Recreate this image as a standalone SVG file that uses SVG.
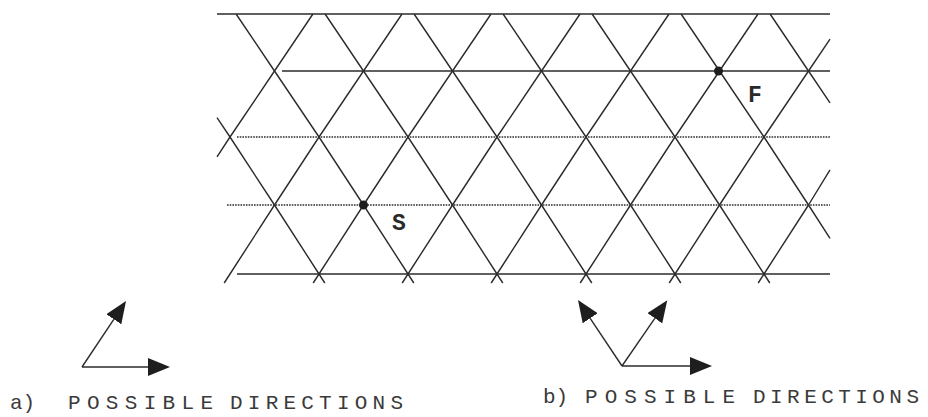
<svg xmlns="http://www.w3.org/2000/svg" width="928" height="417" viewBox="0 0 928 417">
  <style>
    .h { stroke: #2b2b2b; stroke-width: 1.4; fill: none; }
    .hd { stroke: #2b2b2b; stroke-width: 1.3; fill: none; stroke-dasharray: 1.6 1.1; }
    .d { stroke: #2b2b2b; stroke-width: 1.4; fill: none; stroke-linejoin: round; }
    .arr { stroke: #2b2b2b; stroke-width: 1.4; fill: none; marker-end: url(#head); }
    .pt { fill: #1e1e1e; }
    .lbl { font-family: "Liberation Mono", "DejaVu Sans Mono", monospace; font-weight: bold; font-size: 23px; fill: #2a2a2a; }
    .cap { font-family: "Liberation Mono", "DejaVu Sans Mono", monospace; font-size: 21px; fill: #3a3a3a; }
  </style>
  <defs>
    <marker id="head" markerUnits="userSpaceOnUse" viewBox="0 -9 22 18" markerWidth="22" markerHeight="18" refX="0" refY="0" orient="auto">
      <path d="M0,-9 L22,0 L0,9 z" fill="#1e1e1e"/>
    </marker>
  </defs>
  <rect width="928" height="417" fill="#ffffff"/>

  <g id="connectors">
    <line class="h" x1="217" y1="14" x2="830" y2="14"/>
    <line class="h" x1="282" y1="71" x2="830" y2="71"/>
    <line class="hd" x1="237" y1="137" x2="830" y2="137"/>
    <line class="hd" x1="227" y1="205" x2="830" y2="205"/>
    <line class="h" x1="237" y1="274" x2="830" y2="274"/>

    <polyline class="d" points="217,117.7 230,137 274.5,205 319,274 324.8,283"/>
    <polyline class="d" points="236.1,14 274.5,71 319,137 363.5,205 408,274 413.8,283"/>
    <polyline class="d" points="325.1,14 363.5,71 408,137 452.5,205 497,274 502.8,283"/>
    <polyline class="d" points="414.1,14 452.5,71 497,137 541.5,205 586,274 591.8,283"/>
    <polyline class="d" points="503.1,14 541.5,71 586,137 630.5,205 675,274 680.8,283"/>
    <polyline class="d" points="592.1,14 630.5,71 675,137 719.5,205 764,274 769.8,283"/>
    <polyline class="d" points="681.1,14 719.5,71 764,137 808.5,205 830,238.3"/>
    <polyline class="d" points="770.1,14 808.5,71 830,102.9"/>

    <polyline class="d" points="217,156.9 230,137 274.5,71 312.9,14"/>
    <polyline class="d" points="224.2,283 230,274 274.5,205 319,137 363.5,71 402,14"/>
    <polyline class="d" points="313.2,283 319,274 363.5,205 408,137 452.5,71 491,14"/>
    <polyline class="d" points="402.2,283 408,274 452.5,205 497,137 541.5,71 580,14"/>
    <polyline class="d" points="491.2,283 497,274 541.5,205 586,137 630.5,71 669,14"/>
    <polyline class="d" points="580.2,283 586,274 630.5,205 675,137 719.5,71 758,14"/>
    <polyline class="d" points="669.2,283 675,274 719.5,205 764,137 808.5,71 830,39.1"/>
    <polyline class="d" points="758.2,283 764,274 808.5,205 830,169.8"/>
  </g>

  <g id="node-S">
    <circle class="pt" cx="363.5" cy="205" r="4.5"/>
    <text class="lbl" x="392" y="230">S</text>
  </g>
  <g id="node-F">
    <circle class="pt" cx="718.5" cy="71" r="4.5"/>
    <text class="lbl" x="748" y="102">F</text>
  </g>

  <g id="directions-a">
    <line class="arr" x1="82" y1="367" x2="148" y2="367"/>
    <line class="arr" x1="82" y1="367" x2="113.8" y2="319.3"/>
    <text class="cap" y="409"><tspan x="10">a)</tspan> <tspan x="68" textLength="145" lengthAdjust="spacing">POSSIBLE</tspan> <tspan x="230" textLength="173" lengthAdjust="spacing">DIRECTIONS</tspan></text>
  </g>
  <g id="directions-b">
    <line class="arr" x1="622" y1="366" x2="690" y2="366"/>
    <line class="arr" x1="622" y1="366" x2="590.2" y2="318.3"/>
    <line class="arr" x1="622" y1="366" x2="654.8" y2="318.3"/>
    <text class="cap" y="403"><tspan x="543">b)</tspan><tspan x="585" textLength="150" lengthAdjust="spacing">POSSIBLE</tspan> <tspan x="753" textLength="166" lengthAdjust="spacing">DIRECTIONS</tspan></text>
  </g>
</svg>
